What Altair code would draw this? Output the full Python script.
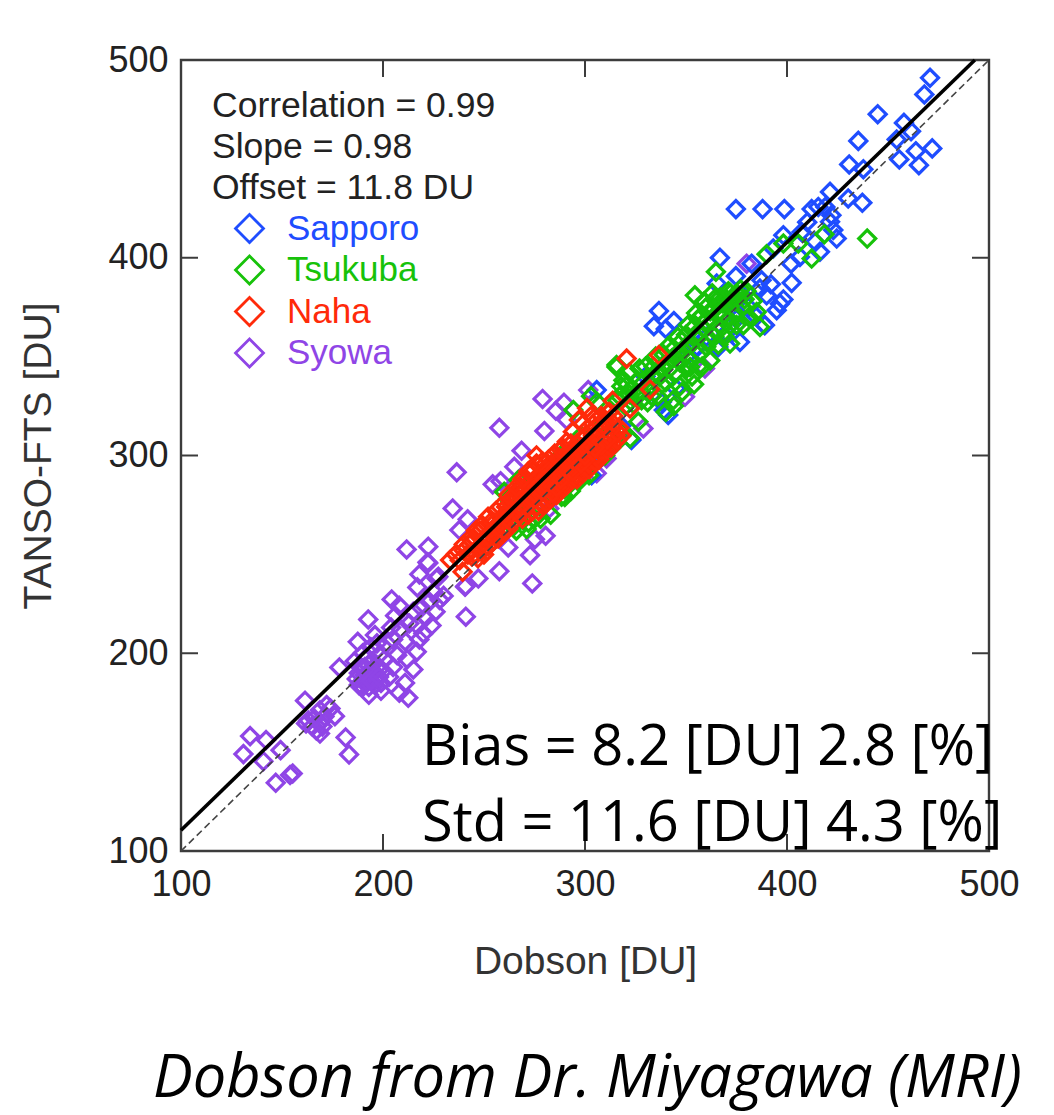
import altair as alt
import pandas as pd

stations = ["Sapporo", "Tsukuba", "Naha", "Syowa"]
colors = ["#1f4dff", "#17c20a", "#ff2a0a", "#8f45e6"]

syowa = [(211.7,252.5),(222.4,253.9),(222,246),(218,239.9),(217,233.3),(227.4,238.7),(240.6,233.6),(241,218.5),
(192.7,217.1),(204.3,227.2),(187.5,205.8),(196,209.2),(178.4,192.8),(216.7,200.7),(215,191.8),(210.9,185),
(208.1,180),(212.5,177.5),(161.4,176),(168.8,171.2),(172.1,173.8),(176.2,168.2),(161.9,164.5),(168.8,159.4),
(181.5,157.4),(183.2,148.8),(134.2,158.1),(142.1,156.1),(130.9,149),(149.3,151),(140.8,145.4),(146.9,134.5),
(154,138.4),(155.3,139.2),(163,166),(165,163),(167,161),(169,165),(171,168),(170,163),(174,172),(166,167),
(186,196),(188,190),(190,186),(191,193),(192,198),(193,183),(194,190),(195,196),(196,187),(197,193),(198,199),
(199,185),(200,191),(190,200),(194,203),(197,205),(201,197),(203,188),(205,193),(199,181),(193,179),(188,184),
(189,193),(191,189),(192,186),(193,194),(195,191),(196,184),(187,187),(190,183),(194,186),(198,188),
(202,205),(204,213),(206,219),(208,224),(205,207),(209,212),(211,206),(213,215),(215,221),(212,197),(207,199),
(217,214),(219,223),(221,218),(223,226),(225,231),(220,210),(224,214),(226,221),(218,207),(228,227),(230,229),
(279,328.6),(285.6,322.6),(289.6,326.7),(301.6,333.1),(257.6,314),(279.9,312.4),(268.6,302.4),(265,294.3),
(236.5,291.5),(254.3,285.4),(258.2,287),(234.5,273.2),(241.9,267.7),(237.8,262.3),(222.4,245.7),(262,253.5),
(272.8,249.6),(275.2,257.7),(280.5,259.4),(257.6,241.5),(247.2,237.8),(240.9,234),(273.9,235.3),(282.3,273.2),
(305.8,291),(310.7,298.5),(359.4,344),(349.5,329.7),(328.9,313.7),(290.9,318),(226.6,237.8),(380,397),(389,366)]

sapporo = [(470.8,491),(468,482.6),(444.9,472.6),(457.9,468.2),(461.4,464),(454.3,459.8),(435.3,459.1),(430.8,447.2),
(437.8,444.8),(455.6,449.7),(463.8,453.9),(471.9,455.3),(465.3,446.8),(421.3,433.3),(430.3,430),(437.3,427.8),
(374.7,424.6),(387.9,424.6),(398.7,424.6),(412.2,424.6),(415.5,425.7),(419,425.7),(422,421.5),(421.3,418.2),
(424.6,409.7),(422.9,414),(398.2,411.4),(407.2,413),(416.3,403),(406.4,400.4),(393.2,404.7),(366.8,400),
(374.7,390.7),(365.2,387),(382.5,397),(387.4,388.6),(392,386.6),(402.3,387.3),(386.6,384.4),(389.9,381),
(398.2,378.9),(396.5,376.8),(394.9,373.5),(336.6,373.1),(334.1,365.4),(389,365.9),(376.7,357.4),(366,354.9),
(355.3,354.4),(305.8,333.1),(323,307.8),(303.3,290),(341.2,320.5),(355.3,355),(312.4,303.6),(365.2,354.2),
(410,418),(414,408),(402,397),(381,375),(375,369),(370,362),(360,360),(350,350),(345,334),(338,327),(339,323),
(300,292),(296,294),(308,299),(318,315),(330,340),(378,381),(384,371),(372,378),(340,364),(344,368)]

tsukuba = [(439.7,409.7),(418.5,411.9),(412.2,399.6),(405.6,407.2),(398.2,407.2),(389.9,401.8),(364.8,392.9),(354.4,381),
(371.8,356.6),(386.6,365),(378.4,365.9),(385,372.6),(315.6,344.8),(352,344.8),(294.2,323),(288.4,279.2),(297.5,287.6),
(271.1,262.8),(264.5,264),(311.5,303.6),(306.6,299.4),(322.3,308.7),(319,311.2),(326.4,317.1),(279.4,275),(315.6,345.8),
(343.7,328),(350.3,344),(295.9,294.3),(267,287.6),(260,281.6),
(318,335),(320,330),(322,342),(324,326),(326,338),(328,332),(330,345),(331,327),(333,340),(335,350),(336,330),(338,345),
(340,337),(341,355),(343,349),(345,342),(346,360),(347,335),(349,353),(351,366),(352,348),(353,340),(355,372),(356,362),
(357,352),(358,345),(359,378),(360,368),(361,358),(362,348),(363,382),(364,374),(365,364),(366,356),(367,380),(368,370),
(369,360),(370,376),(371,383),(372,366),(373,380),(374,372),(376,381),(378,375),(380,383),(381,370),(383,378),(354,336),
(348,332),(344,325),(340,322),(337,340),(312,322),(316,328),(309,316),(306,327),(303,330),(298,310),(288,300),(283,281),
(280,290),(275,268),(270,268),(268,277),(262,278),(292,290),(300,303),(304,302),(313,312),
(319,338),(321,336),(323,334),(325,331),(327,344),(329,337),(332,333),(334,345),(336,341),(339,351),(342,344),(344,354),
(347,347),(348,358),(350,361),(352,356),(354,365),(356,369),(358,371),(360,375),(362,373),(364,379),(366,376),(368,377),
(370,379),(372,382),(374,378),(377,384),(379,379),(346,352),(350,355),(355,360),(359,364),(363,368),(367,373),(371,369),
(338,336),(333,330),(328,328),(322,331),(317,330),(320,325),(356,345),(360,355),(364,360),(368,365),(375,366),(341,347),
(285,283),(290,283),(293,282),(298,288),(302,290),(283,270),(278,268),(272,266),(266,262),(290,279),(310,300),(315,306)]

naha = [(320.6,349),(336.6,350.8),(332.2,333.4),(313.7,327.7),(322.3,323.8),(239.4,241.2),(233.2,247.1),
(236,250),(238,247),(240,252),(242,250),(243,255),(244,249),(245,258),(246,250),(247,253),(248,262),(249,252),(250,250),
(251,259),(252,254),(253,266),(254,262),(255,257),(256,260),(256,272),(257,264),(258,259),(259,268),(260,263),(261,274),
(262,263),(263,270),(264,266),(265,280),(265,272),(266,268),(267,274),(268,284),(268,272),(269,268),(270,278),(271,288),
(271,274),(272,270),(273,282),(273,276),(274,292),(274,272),(275,285),(275,278),(276,296),(276,274),(277,288),(277,272),
(278,282),(278,276),(279,297),(279,290),(279,275),(280,284),(280,278),(281,294),(281,276),(282,298),(282,288),(282,280),
(283,278),(283,292),(284,296),(284,284),(285,281),(285,301),(286,290),(286,280),(287,294),(287,284),(288,284),(288,298),
(289,304),(289,288),(290,286),(290,292),(291,296),(291,285),(292,289),(292,300),(293,306),(293,290),(294,288),(294,296),
(295,302),(295,290),(296,288),(296,294),(297,298),(297,318),(298,304),(298,292),(299,291),(299,308),(300,296),(300,294),
(301,324),(301,302),(302,296),(302,293),(303,306),(303,298),(304,316),(304,310),(305,300),(305,297),(306,304),(306,300),
(307,312),(307,298),(308,308),(308,320),(309,302),(309,303),(310,314),(310,306),(311,303),(312,310),(312,322),(313,304),
(314,316),(315,310),(316,308),(317,314),(318,310),
(270,283),(272,286),(274,282),(276,288),(277,280),(278,291),(279,284),(280,293),(281,286),(282,292),(283,286),(284,290),
(285,293),(286,286),(287,298),(288,291),(289,296),(290,300),(291,290),(292,294),(293,298),(294,303),(295,296),(296,306),
(297,302),(298,298),(299,300),(300,310),(301,306),(302,300),(303,312),(304,305),(305,314),(306,310),(307,305),(308,314),
(262,272),(264,276),(266,278),(268,280),(270,272),(272,278),(274,278),(276,280),(278,286),(280,288),(282,284),(284,281),
(286,284),(288,288),(290,295),(292,292),(294,292),(296,298),(298,296),(300,300),(302,304),(304,302),(306,307),(308,305),
(240,255),(243,258),(246,262),(249,265),(252,269),(255,266),(258,274),(261,268),(264,279),(267,282),(254,256),(257,258),
(260,270),(263,276),(247,248),(250,256),(253,258),(256,264),(259,262),(262,280),(266,284),(269,288),(272,292),(276,300),
(288,303),(291,307),(294,312),(299,316),(303,320),(306,318),(310,318),(314,320),(316,312),(311,308),(305,304),(300,304)]

series = {"Syowa": syowa, "Sapporo": sapporo, "Tsukuba": tsukuba, "Naha": naha}
rows = [{"Dobson": a, "TANSO": b, "Station": s} for s, pts in series.items() for a, b in pts]
df = pd.DataFrame(rows)

W, H = 808, 791
ticks = [100, 200, 300, 400, 500]
FRAME = "#3c3c3c"
xs = alt.Scale(domain=[100, 500], nice=False)
ys = alt.Scale(domain=[100, 500], nice=False)
base_font = "Liberation Sans"

points = alt.Chart(df).mark_point(shape="diamond", filled=False, size=290, strokeWidth=3.2, opacity=1, clip=True).encode(
    x=alt.X("Dobson:Q", scale=xs, axis=alt.Axis(values=ticks, grid=False, tickSize=0, domain=False, labelFontSize=36,
        labelFont=base_font, labelColor="#222222", labelPadding=16, titleFont=base_font, titleFontSize=39, titleFontWeight="normal",
        titleColor="#333333", titlePadding=40, title="Dobson [DU]", labelFlush=False)),
    y=alt.Y("TANSO:Q", scale=ys, axis=alt.Axis(values=ticks, grid=False, tickSize=0, domain=False, labelFontSize=36,
        labelFont=base_font, labelColor="#222222", labelPadding=13, titleFont=base_font, titleFontSize=39, titleFontWeight="normal",
        titleColor="#333333", titlePadding=49, title="TANSO-FTS [DU]")),
    color=alt.Color("Station:N", scale=alt.Scale(domain=stations, range=colors), legend=alt.Legend(
        orient="none", legendX=51, legendY=151, title=None, symbolSize=780, symbolStrokeWidth=2.8, symbolType="diamond",
        labelFontSize=35, labelFont=base_font, rowPadding=0.5, labelOffset=20, padding=0,
        labelColor=alt.ExprRef("{'Sapporo':'#1f4dff','Tsukuba':'#17c20a','Naha':'#ff2a0a','Syowa':'#8f45e6'}[datum.label]"))),
)

identity = alt.Chart(pd.DataFrame({"a": [100, 500], "b": [100, 500]})).mark_line(
    color="#444444", strokeWidth=1.6, strokeDash=[7, 4]).encode(x=alt.X("a:Q", scale=xs), y=alt.Y("b:Q", scale=ys))
fit = alt.Chart(pd.DataFrame({"a": [100, 493], "b": [110.5, 500]})).mark_line(
    color="#000000", strokeWidth=3.6).encode(x=alt.X("a:Q", scale=xs), y=alt.Y("b:Q", scale=ys))

tick_df = pd.DataFrame({"t": ticks[1:-1]})
def rule(enc):
    return alt.Chart(tick_df).mark_rule(color=FRAME, strokeWidth=2).encode(**enc)
tick_layers = [
    rule(dict(x=alt.X("t:Q", scale=xs), y=alt.value(H), y2=alt.value(H - 17))),
    rule(dict(x=alt.X("t:Q", scale=xs), y=alt.value(0), y2=alt.value(17))),
    rule(dict(y=alt.Y("t:Q", scale=ys), x=alt.value(0), x2=alt.value(17))),
    rule(dict(y=alt.Y("t:Q", scale=ys), x=alt.value(W), x2=alt.value(W - 17))),
]

def label(text, x, y, size, font=base_font, color="#222222", style="normal", align="left"):
    return alt.Chart(pd.DataFrame({"s": [text]})).mark_text(align=align, baseline="alphabetic", fontSize=size, font=font,
        color=color, fontStyle=style).encode(text="s:N", x=alt.value(x), y=alt.value(y))

notes = [
    label("Correlation = 0.99", 31, 57, 35.5),
    label("Slope = 0.98", 31, 98, 35.5),
    label("Offset = 11.8 DU", 31, 139, 35.5),
    label("Bias = 8.2 [DU] 2.8 [%]", 241, 705, 56, font="Open Sans", color="#000000"),
    label("Std = 11.6 [DU] 4.3 [%]", 241, 781, 56, font="Open Sans", color="#000000"),
    label("Dobson from Dr. Miyagawa (MRI)", -28, 1037, 59.5, font="Open Sans", color="#000000", style="italic"),
]

chart = alt.layer(points, identity, fit, *tick_layers, *notes).properties(
    width=W, height=H, padding={"left": 173, "top": 52, "right": 35, "bottom": 264},
    autosize=alt.AutoSizeParams(type="none"),
).configure_view(stroke=FRAME, strokeWidth=2.4)

chart.save("out.html", embed_options={"renderer": "svg", "actions": False})
